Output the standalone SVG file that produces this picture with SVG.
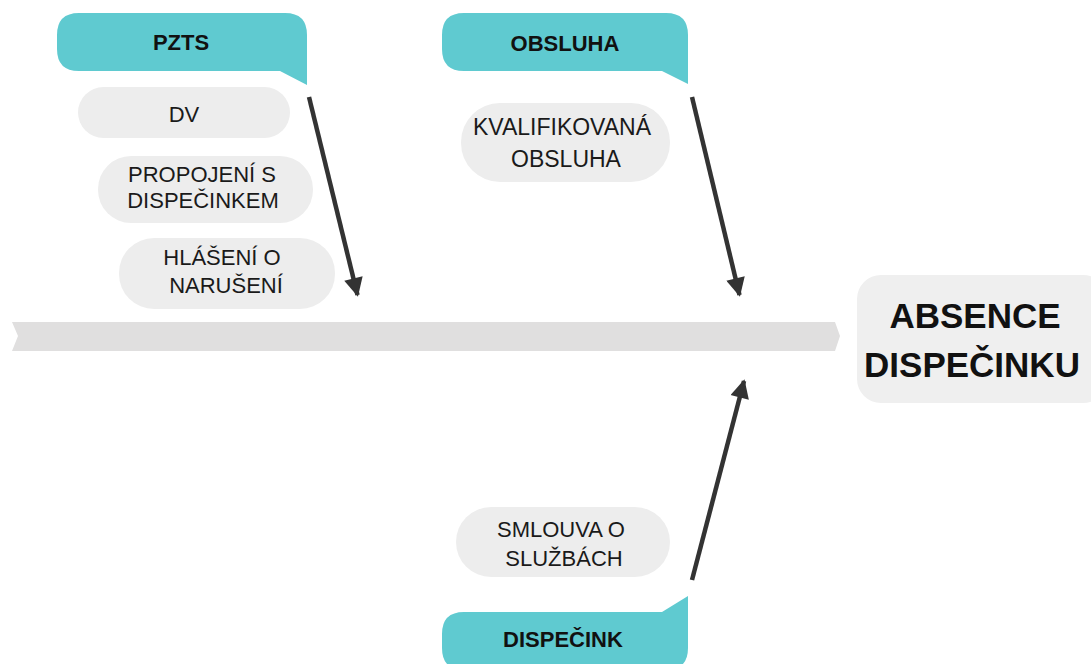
<svg xmlns="http://www.w3.org/2000/svg" width="1091" height="664" viewBox="0 0 1091 664">
  <defs>
    <style>
      .cat { fill: #5FCAD0; }
      .cause { fill: #EDEDED; }
      .cat-text { font-family: "Liberation Sans", Arial, sans-serif; font-weight: bold; font-size: 22px; fill: #111; text-anchor: middle; }
      .cause-text { font-family: "Liberation Sans", Arial, sans-serif; font-size: 22px; fill: #1a1a1a; text-anchor: middle; }
      .head-text { font-family: "Liberation Sans", Arial, sans-serif; font-weight: bold; font-size: 35px; fill: #111; text-anchor: middle; }
      .bone { stroke: #333; stroke-width: 4.5; fill: none; marker-end: url(#tip); }
    </style>
    <marker id="tip" viewBox="0 0 10 10" refX="9" refY="5" markerWidth="5" markerHeight="4.2" orient="auto" markerUnits="strokeWidth">
      <path d="M0,0 L10,5 L0,10 Z" fill="#333"/>
    </marker>
  </defs>

  <rect width="1091" height="664" fill="#ffffff"/>

  <!-- spine -->
  <g id="spine">
    <polygon points="12,322 835,322 840,336 835,351 12,351 18,336" fill="#E0DFDF"/>
  </g>

  <!-- effect -->
  <g id="effect">
    <rect x="857" y="275" width="250" height="128" rx="24" fill="#EFEFEF"/>
    <text class="head-text" x="975" y="328">ABSENCE</text>
    <text class="head-text" x="972" y="377">DISPEČINKU</text>
  </g>

  <!-- category callouts -->
  <g id="cat-pzts">
    <path class="cat" d="M79,13 H285 Q307,13 307,35 V85 L280,71 H79 Q57,71 57,49 V35 Q57,13 79,13 Z"/>
    <text class="cat-text" x="181" y="50">PZTS</text>
  </g>
  <g id="cat-obsluha">
    <path class="cat" d="M464,13 H666 Q688,13 688,35 V84 L662,71 H464 Q442,71 442,49 V35 Q442,13 464,13 Z"/>
    <text class="cat-text" x="565" y="51">OBSLUHA</text>
  </g>
  <g id="cat-dispecink">
    <path class="cat" d="M464,612 H662 L688,596 V648 Q688,670 666,670 H464 Q442,670 442,648 V634 Q442,612 464,612 Z"/>
    <text class="cat-text" x="563" y="647">DISPEČINK</text>
  </g>

  <!-- causes -->
  <g id="cause-dv">
    <rect class="cause" x="78" y="87" width="212" height="51" rx="25.5"/>
    <text class="cause-text" x="184" y="122">DV</text>
  </g>
  <g id="cause-propojeni">
    <rect class="cause" x="98" y="156" width="215" height="67" rx="33"/>
    <text class="cause-text" x="202" y="182">PROPOJENÍ S</text>
    <text class="cause-text" x="203" y="208">DISPEČINKEM</text>
  </g>
  <g id="cause-hlaseni">
    <rect class="cause" x="119" y="238" width="216" height="71" rx="35"/>
    <text class="cause-text" x="222" y="265">HLÁŠENÍ O</text>
    <text class="cause-text" x="226" y="293">NARUŠENÍ</text>
  </g>
  <g id="cause-kvalifikovana">
    <rect class="cause" x="461" y="103" width="209" height="79" rx="39"/>
    <text class="cause-text" x="562" y="135" style="font-size:23px">KVALIFIKOVANÁ</text>
    <text class="cause-text" x="566" y="167" style="font-size:23px">OBSLUHA</text>
  </g>
  <g id="cause-smlouva">
    <rect class="cause" x="456" y="507" width="214" height="70" rx="35"/>
    <text class="cause-text" x="561" y="537">SMLOUVA O</text>
    <text class="cause-text" x="564" y="566">SLUŽBÁCH</text>
  </g>

  <!-- connectors -->
  <g id="connectors">
    <line class="bone" x1="309" y1="97" x2="357.5" y2="295"/>
    <line class="bone" x1="692" y1="97" x2="739.5" y2="295"/>
    <line class="bone" x1="692" y1="580" x2="744" y2="381"/>
  </g>
</svg>
